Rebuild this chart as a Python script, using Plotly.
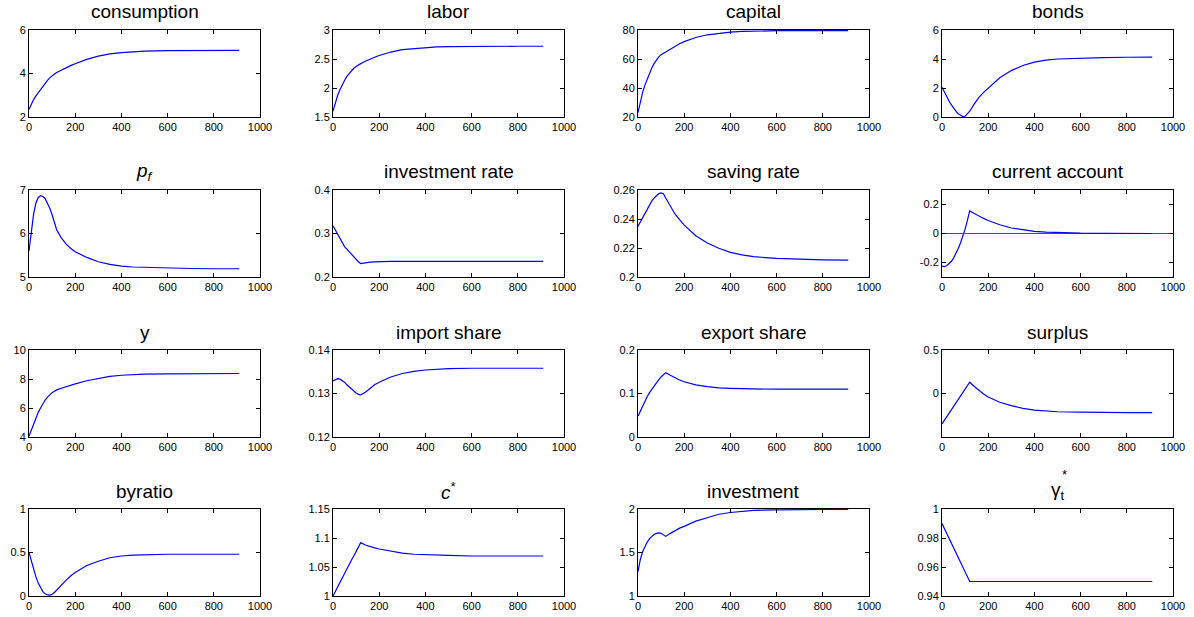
import plotly.graph_objects as go

# common time grid
t = [0, 10, 20, 30, 40, 50, 60, 70, 80, 90, 100, 110, 120, 140, 160, 180, 200,
     250, 300, 350, 400, 450, 500, 600, 700, 800, 910]

consumption = [2.35, 2.6, 2.8, 2.97, 3.12, 3.27, 3.42, 3.55, 3.68, 3.8, 3.9, 3.98, 4.05,
               4.16, 4.26, 4.36, 4.45, 4.65, 4.8, 4.9, 4.96, 5.0, 5.03, 5.05, 5.06, 5.06, 5.06]
labor = [1.6, 1.75, 1.87, 1.97, 2.06, 2.13, 2.2, 2.25, 2.3, 2.34, 2.37, 2.4, 2.42,
         2.46, 2.5, 2.53, 2.56, 2.62, 2.66, 2.68, 2.7, 2.71, 2.715, 2.72, 2.72, 2.72, 2.72]
capital = [23, 31, 37, 42, 46.5, 50.5, 54, 57, 59.5, 61.5, 63, 64, 65,
           67, 69, 70.5, 72, 74.8, 76.7, 77.9, 78.6, 79, 79.3, 79.5, 79.6, 79.6, 79.6]
bonds = [2.05, 1.7, 1.4, 1.12, 0.85, 0.6, 0.4, 0.22, 0.1, 0.03, 0.05, 0.2, 0.4,
         0.9, 1.35, 1.7, 2.0, 2.7, 3.2, 3.55, 3.78, 3.92, 4.0, 4.07, 4.1, 4.12, 4.13]
pf = [5.6, 6.05, 6.45, 6.7, 6.83, 6.87, 6.85, 6.8, 6.7, 6.58, 6.43, 6.25, 6.08,
      5.9, 5.76, 5.66, 5.58, 5.45, 5.35, 5.29, 5.25, 5.23, 5.22, 5.2, 5.195, 5.19, 5.19]
inv_rate = [0.318, 0.308, 0.297, 0.287, 0.278, 0.27, 0.264, 0.258, 0.252, 0.246, 0.24, 0.235, 0.231,
            0.233, 0.234, 0.235, 0.2355, 0.236, 0.236, 0.236, 0.236, 0.236, 0.236, 0.236, 0.236, 0.236, 0.236]
saving_rate = [0.235, 0.238, 0.241, 0.244, 0.247, 0.25, 0.2525, 0.2545, 0.2562, 0.2575, 0.258, 0.2575, 0.2545,
               0.2485, 0.2435, 0.2395, 0.2358, 0.2285, 0.2235, 0.2198, 0.217, 0.2152, 0.214, 0.2128, 0.2122, 0.2118, 0.2116]
current_account = [-0.225, -0.228, -0.222, -0.21, -0.193, -0.17, -0.14, -0.105, -0.065, -0.02, 0.03, 0.09, 0.156,
                   0.138, 0.12, 0.104, 0.09, 0.06, 0.038, 0.024, 0.015, 0.009, 0.006, 0.002, 0.001, 0.0, 0.0]
ca_zero_x = [0, 1000]
ca_zero_y = [0, 0]
y_out = [4.05, 4.5, 4.95, 5.35, 5.7, 6.0, 6.3, 6.55, 6.75, 6.92, 7.06, 7.16, 7.25,
         7.36, 7.47, 7.57, 7.66, 7.88, 8.04, 8.18, 8.26, 8.31, 8.34, 8.36, 8.37, 8.38, 8.38]
import_share = [0.1329, 0.1332, 0.1334, 0.1333, 0.1330, 0.1326, 0.1320, 0.1315, 0.1310, 0.1305, 0.1301, 0.1298, 0.1297,
                0.1303, 0.1312, 0.1320, 0.1326, 0.1338, 0.1346, 0.1351, 0.1354, 0.1356, 0.1357, 0.1358, 0.1358, 0.1358, 0.1358]
export_share = [0.048, 0.06, 0.072, 0.083, 0.093, 0.102, 0.11, 0.118, 0.125, 0.132, 0.138, 0.143, 0.148,
                0.142, 0.136, 0.131, 0.127, 0.12, 0.116, 0.113, 0.112, 0.111, 0.1105, 0.11, 0.11, 0.11, 0.11]
surplus = [-0.35, -0.31, -0.27, -0.23, -0.19, -0.15, -0.11, -0.07, -0.03, 0.01, 0.05, 0.09, 0.13,
           0.08, 0.035, -0.005, -0.04, -0.1, -0.14, -0.17, -0.19, -0.2, -0.21, -0.215, -0.22, -0.22, -0.22]
byratio = [0.5, 0.4, 0.31, 0.22, 0.15, 0.09, 0.05, 0.025, 0.012, 0.01, 0.02, 0.04, 0.07,
           0.13, 0.18, 0.23, 0.27, 0.35, 0.40, 0.44, 0.46, 0.47, 0.475, 0.48, 0.48, 0.48, 0.48]
c_star = [1.0, 1.008, 1.015, 1.023, 1.031, 1.038, 1.046, 1.054, 1.062, 1.069, 1.077, 1.085, 1.092,
          1.088, 1.085, 1.083, 1.081, 1.077, 1.074, 1.072, 1.071, 1.0705, 1.07, 1.069, 1.069, 1.069, 1.069]
investment = [1.28, 1.42, 1.51, 1.57, 1.62, 1.66, 1.69, 1.71, 1.72, 1.725, 1.72, 1.705, 1.685,
              1.72, 1.755, 1.78, 1.8, 1.86, 1.9, 1.94, 1.96, 1.975, 1.985, 1.99, 1.995, 1.995, 1.995]
gamma_star = [0.99, 0.9867, 0.9833, 0.98, 0.9767, 0.9733, 0.97, 0.9667, 0.9633, 0.96, 0.9567, 0.9533, 0.95,
              0.95, 0.95, 0.95, 0.95, 0.95, 0.95, 0.95, 0.95, 0.95, 0.95, 0.95, 0.95, 0.95, 0.95]

titles = ["consumption", "labor", "capital", "bonds",
          "<i>p</i><sub><i>f</i></sub>", "investment rate", "saving rate", "current account",
          "y", "import share", "export share", "surplus",
          "byratio", "<i>c</i><sup>*</sup>", "investment", "\u03b3<sub>t</sub>"]
series = [consumption, labor, capital, bonds,
          pf, inv_rate, saving_rate, current_account,
          y_out, import_share, export_share, surplus,
          byratio, c_star, investment, gamma_star]
y_ranges = [[2, 6], [1.5, 3], [20, 80], [0, 6],
            [5, 7], [0.2, 0.4], [0.2, 0.26], [-0.3, 0.3],
            [4, 10], [0.12, 0.14], [0, 0.2], [-0.5, 0.5],
            [0, 1], [1, 1.15], [1, 2], [0.94, 1]]
y_ticks = [[2, 4, 6], [1.5, 2, 2.5, 3], [20, 40, 60, 80], [0, 2, 4, 6],
           [5, 6, 7], [0.2, 0.3, 0.4], [0.2, 0.22, 0.24, 0.26], [-0.2, 0, 0.2],
           [4, 6, 8, 10], [0.12, 0.13, 0.14], [0, 0.1, 0.2], [0, 0.5],
           [0, 0.5, 1], [1, 1.05, 1.1, 1.15], [1, 1.5, 2], [0.94, 0.96, 0.98, 1]]
y_ticktext = [["2", "4", "6"], ["1.5", "2", "2.5", "3"], ["20", "40", "60", "80"], ["0", "2", "4", "6"],
              ["5", "6", "7"], ["0.2", "0.3", "0.4"], ["0.2", "0.22", "0.24", "0.26"], ["-0.2", "0", "0.2"],
              ["4", "6", "8", "10"], ["0.12", "0.13", "0.14"], ["0", "0.1", "0.2"], ["0", "0.5"],
              ["0", "0.5", "1"], ["1", "1.05", "1.1", "1.15"], ["1", "1.5", "2"], ["0.94", "0.96", "0.98", "1"]]
x_ticks = [0, 200, 400, 600, 800, 1000]

W, H = 1194, 617
col_left = [29, 333, 638, 942]
row_top = [30, 190, 350, 509]
pw, ph = 231, 87

fig = go.Figure()
layout = dict(width=W, height=H, margin=dict(l=0, r=0, t=0, b=0, autoexpand=False),
              paper_bgcolor="white", plot_bgcolor="white", showlegend=False,
              font=dict(family="Liberation Sans, Arial, sans-serif", color="black"))
annotations = []
tickfont = dict(family="Liberation Sans, Arial, sans-serif", size=11, color="black")

for i in range(16):
    r, c = divmod(i, 4)
    n = i + 1
    xa = "xaxis" if n == 1 else f"xaxis{n}"
    ya = "yaxis" if n == 1 else f"yaxis{n}"
    xr = "x" if n == 1 else f"x{n}"
    yr = "y" if n == 1 else f"y{n}"
    x0 = col_left[c] / W
    x1 = (col_left[c] + pw) / W
    y1 = 1 - row_top[r] / H
    y0 = 1 - (row_top[r] + ph) / H
    layout[xa] = dict(domain=[x0, x1], anchor=yr, range=[0, 1000], tickvals=x_ticks,
                      ticks="inside", ticklen=4, tickcolor="black", showline=True,
                      linecolor="black", linewidth=1, mirror="ticks", showgrid=False,
                      zeroline=False, tickfont=tickfont, fixedrange=True, automargin=False)
    layout[ya] = dict(domain=[y0, y1], anchor=xr, range=y_ranges[i], tickvals=y_ticks[i],
                      ticktext=y_ticktext[i],
                      ticks="inside", ticklen=4, tickcolor="black", showline=True,
                      linecolor="black", linewidth=1, mirror="ticks", showgrid=False,
                      zeroline=False, tickfont=tickfont, fixedrange=True, automargin=False)
    if i == 7:
        fig.add_trace(go.Scatter(x=ca_zero_x, y=ca_zero_y, mode="lines",
                                 line=dict(color="#ff0000", width=1), xaxis=xr, yaxis=yr,
                                 hoverinfo="skip"))
    fig.add_trace(go.Scatter(x=t, y=series[i], mode="lines",
                             line=dict(color="blue", width=1.2), xaxis=xr, yaxis=yr))
    annotations.append(dict(text=titles[i], xref="paper", yref="paper",
                            x=(x0 + x1) / 2, y=y1, xanchor="center", yanchor="middle",
                            yshift=18, showarrow=False,
                            font=dict(family="Liberation Sans, Arial, sans-serif", size=19,
                                      color="black")))

# star above the subscript of gamma
annotations.append(dict(text="*", xref="paper", yref="paper",
                        x=(col_left[3] + pw / 2 + 7) / W, y=1 - row_top[3] / H,
                        xanchor="center", yanchor="middle", yshift=35, showarrow=False,
                        font=dict(family="Liberation Sans, Arial, sans-serif", size=13,
                                  color="black")))

layout["annotations"] = annotations
fig.update_layout(**layout)
fig.write_html("out.html", config={"displayModeBar": False},
               post_script="document.body.style.margin='0';document.body.style.overflow='hidden';")
